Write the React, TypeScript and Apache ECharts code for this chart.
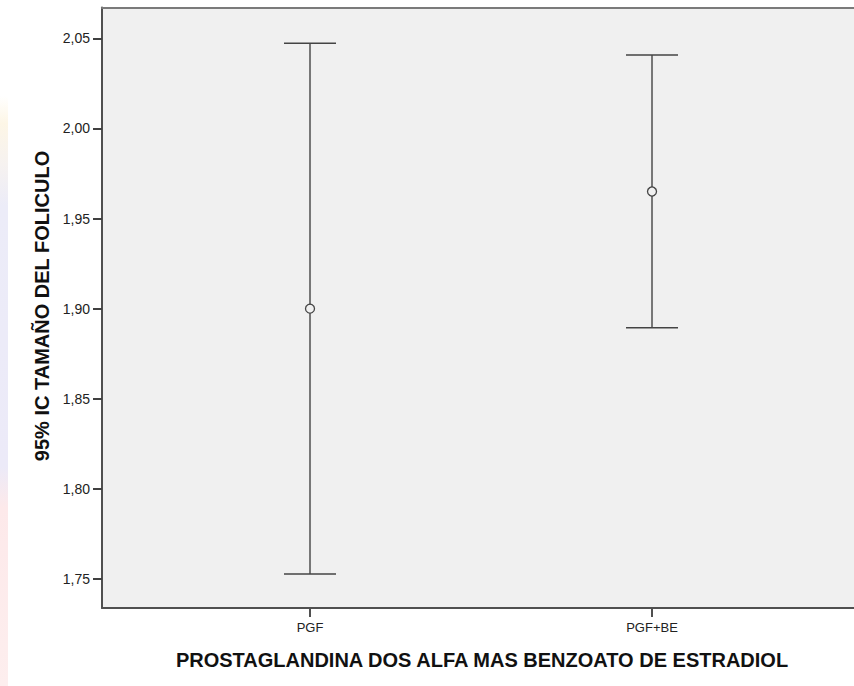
import React, { useEffect, useRef } from "react";
import * as echarts from "echarts";

const groups = ["PGF", "PGF+BE"];
const groupPos = [1, 2];
const means = [1.9, 1.965];
const lower = [1.7527, 1.8894];
const upper = [2.0472, 2.0407];
const yTicks = [1.75, 1.8, 1.85, 1.9, 1.95, 2.0, 2.05];
const yTitle = "95% IC TAMAÑO DEL FOLICULO";
const xTitle = "PROSTAGLANDINA DOS ALFA MAS BENZOATO DE ESTRADIOL";

const FONT = "'Liberation Sans', Arial, sans-serif";

export default function App() {
  const ref = useRef<HTMLDivElement>(null);
  useEffect(() => {
    if (!ref.current) return;
    const chart = echarts.init(ref.current, null, { renderer: "svg" });
    const data = groups.map((g, i) => [groupPos[i], means[i], lower[i], upper[i]]);
    chart.setOption({
      animation: false,
      backgroundColor: "#ffffff",
      grid: {
        left: 102,
        top: 7.5,
        right: 0,
        bottom: 78,
        show: true,
        backgroundColor: "#f0f0f0",
        borderWidth: 0,
      },
      xAxis: [
        {
          type: "value",
          min: 0.39181,
          max: 2.5906,
          axisLine: { show: true, onZero: false, lineStyle: { color: "#505050", width: 2 } },
          axisTick: { show: true, length: 9, customValues: groupPos, lineStyle: { color: "#505050", width: 2 } },
          axisLabel: {
            customValues: groupPos,
            margin: 13,
            fontFamily: FONT,
            fontSize: 13,
            color: "#222",
            formatter: (v: number) => groups[groupPos.indexOf(Math.round(v))] ?? "",
          },
          splitLine: { show: false },
        },
        {
          type: "value",
          position: "top",
          min: 0.39181,
          max: 2.5906,
          axisLine: { show: true, onZero: false, lineStyle: { color: "#7a7a7a", width: 2 } },
          axisTick: { show: false },
          axisLabel: { show: false },
          splitLine: { show: false },
        },
      ],
      yAxis: {
        type: "value",
        min: 1.7339,
        max: 2.0671,
        axisLine: { show: true, lineStyle: { color: "#505050", width: 2 } },
        axisTick: { show: true, length: 9, customValues: yTicks, lineStyle: { color: "#404040", width: 2 } },
        axisLabel: {
          customValues: yTicks,
          margin: 12,
          fontFamily: FONT,
          fontSize: 14,
          color: "#222",
          formatter: (v: number) => v.toFixed(2).replace(".", ","),
        },
        splitLine: { show: false },
      },
      graphic: [
        {
          type: "rect",
          z: -10,
          shape: { x: 0, y: 0, width: 8, height: 686 },
          style: {
            fill: {
              type: "linear",
              x: 0, y: 0, x2: 0, y2: 1,
              colorStops: [
                { offset: 0, color: "#ffffff" },
                { offset: 0.14, color: "#ffffff" },
                { offset: 0.18, color: "#fdf6e6" },
                { offset: 0.24, color: "#f6f2f0" },
                { offset: 0.3, color: "#ececf8" },
                { offset: 0.68, color: "#eceaf8" },
                { offset: 0.74, color: "#fde9ea" },
                { offset: 1, color: "#fdeeee" },
              ],
            },
          },
        },
        {
          type: "text",
          x: 41.5,
          y: 306,
          rotation: Math.PI / 2,
          style: {
            text: yTitle,
            fontFamily: FONT,
            fontWeight: "bold",
            fontSize: 20,
            fill: "#111",
            textAlign: "center",
            textVerticalAlign: "middle",
          },
        },
        {
          type: "text",
          x: 482,
          y: 660,
          style: {
            text: xTitle,
            fontFamily: FONT,
            fontWeight: "bold",
            fontSize: 20,
            fill: "#111",
            textAlign: "center",
            textVerticalAlign: "middle",
          },
        },
      ],
      series: [
        {
          type: "custom",
          data,
          clip: false,
          renderItem: (params: any, api: any) => {
            const x = api.value(0);
            const m = api.coord([x, api.value(1)]);
            const lo = api.coord([x, api.value(2)]);
            const hi = api.coord([x, api.value(3)]);
            const hw = 26;
            return {
              type: "group",
              children: [
                {
                  type: "line",
                  shape: { x1: hi[0], y1: hi[1], x2: lo[0], y2: lo[1] },
                  style: { stroke: "#777777", lineWidth: 2 },
                },
                {
                  type: "line",
                  shape: { x1: hi[0] - hw, y1: hi[1], x2: hi[0] + hw, y2: hi[1] },
                  style: { stroke: "#444444", lineWidth: 1.5 },
                },
                {
                  type: "line",
                  shape: { x1: lo[0] - hw, y1: lo[1], x2: lo[0] + hw, y2: lo[1] },
                  style: { stroke: "#444444", lineWidth: 1.5 },
                },
                {
                  type: "circle",
                  shape: { cx: m[0], cy: m[1], r: 4.5 },
                  style: { fill: "#f0f0f0", stroke: "#444444", lineWidth: 1.3 },
                },
              ],
            };
          },
        },
      ],
    });
    return () => chart.dispose();
  }, []);
  return (
    <div
      ref={ref}
      style={{ position: "fixed", left: 0, top: 0, width: 854, height: 686 }}
    />
  );
}
